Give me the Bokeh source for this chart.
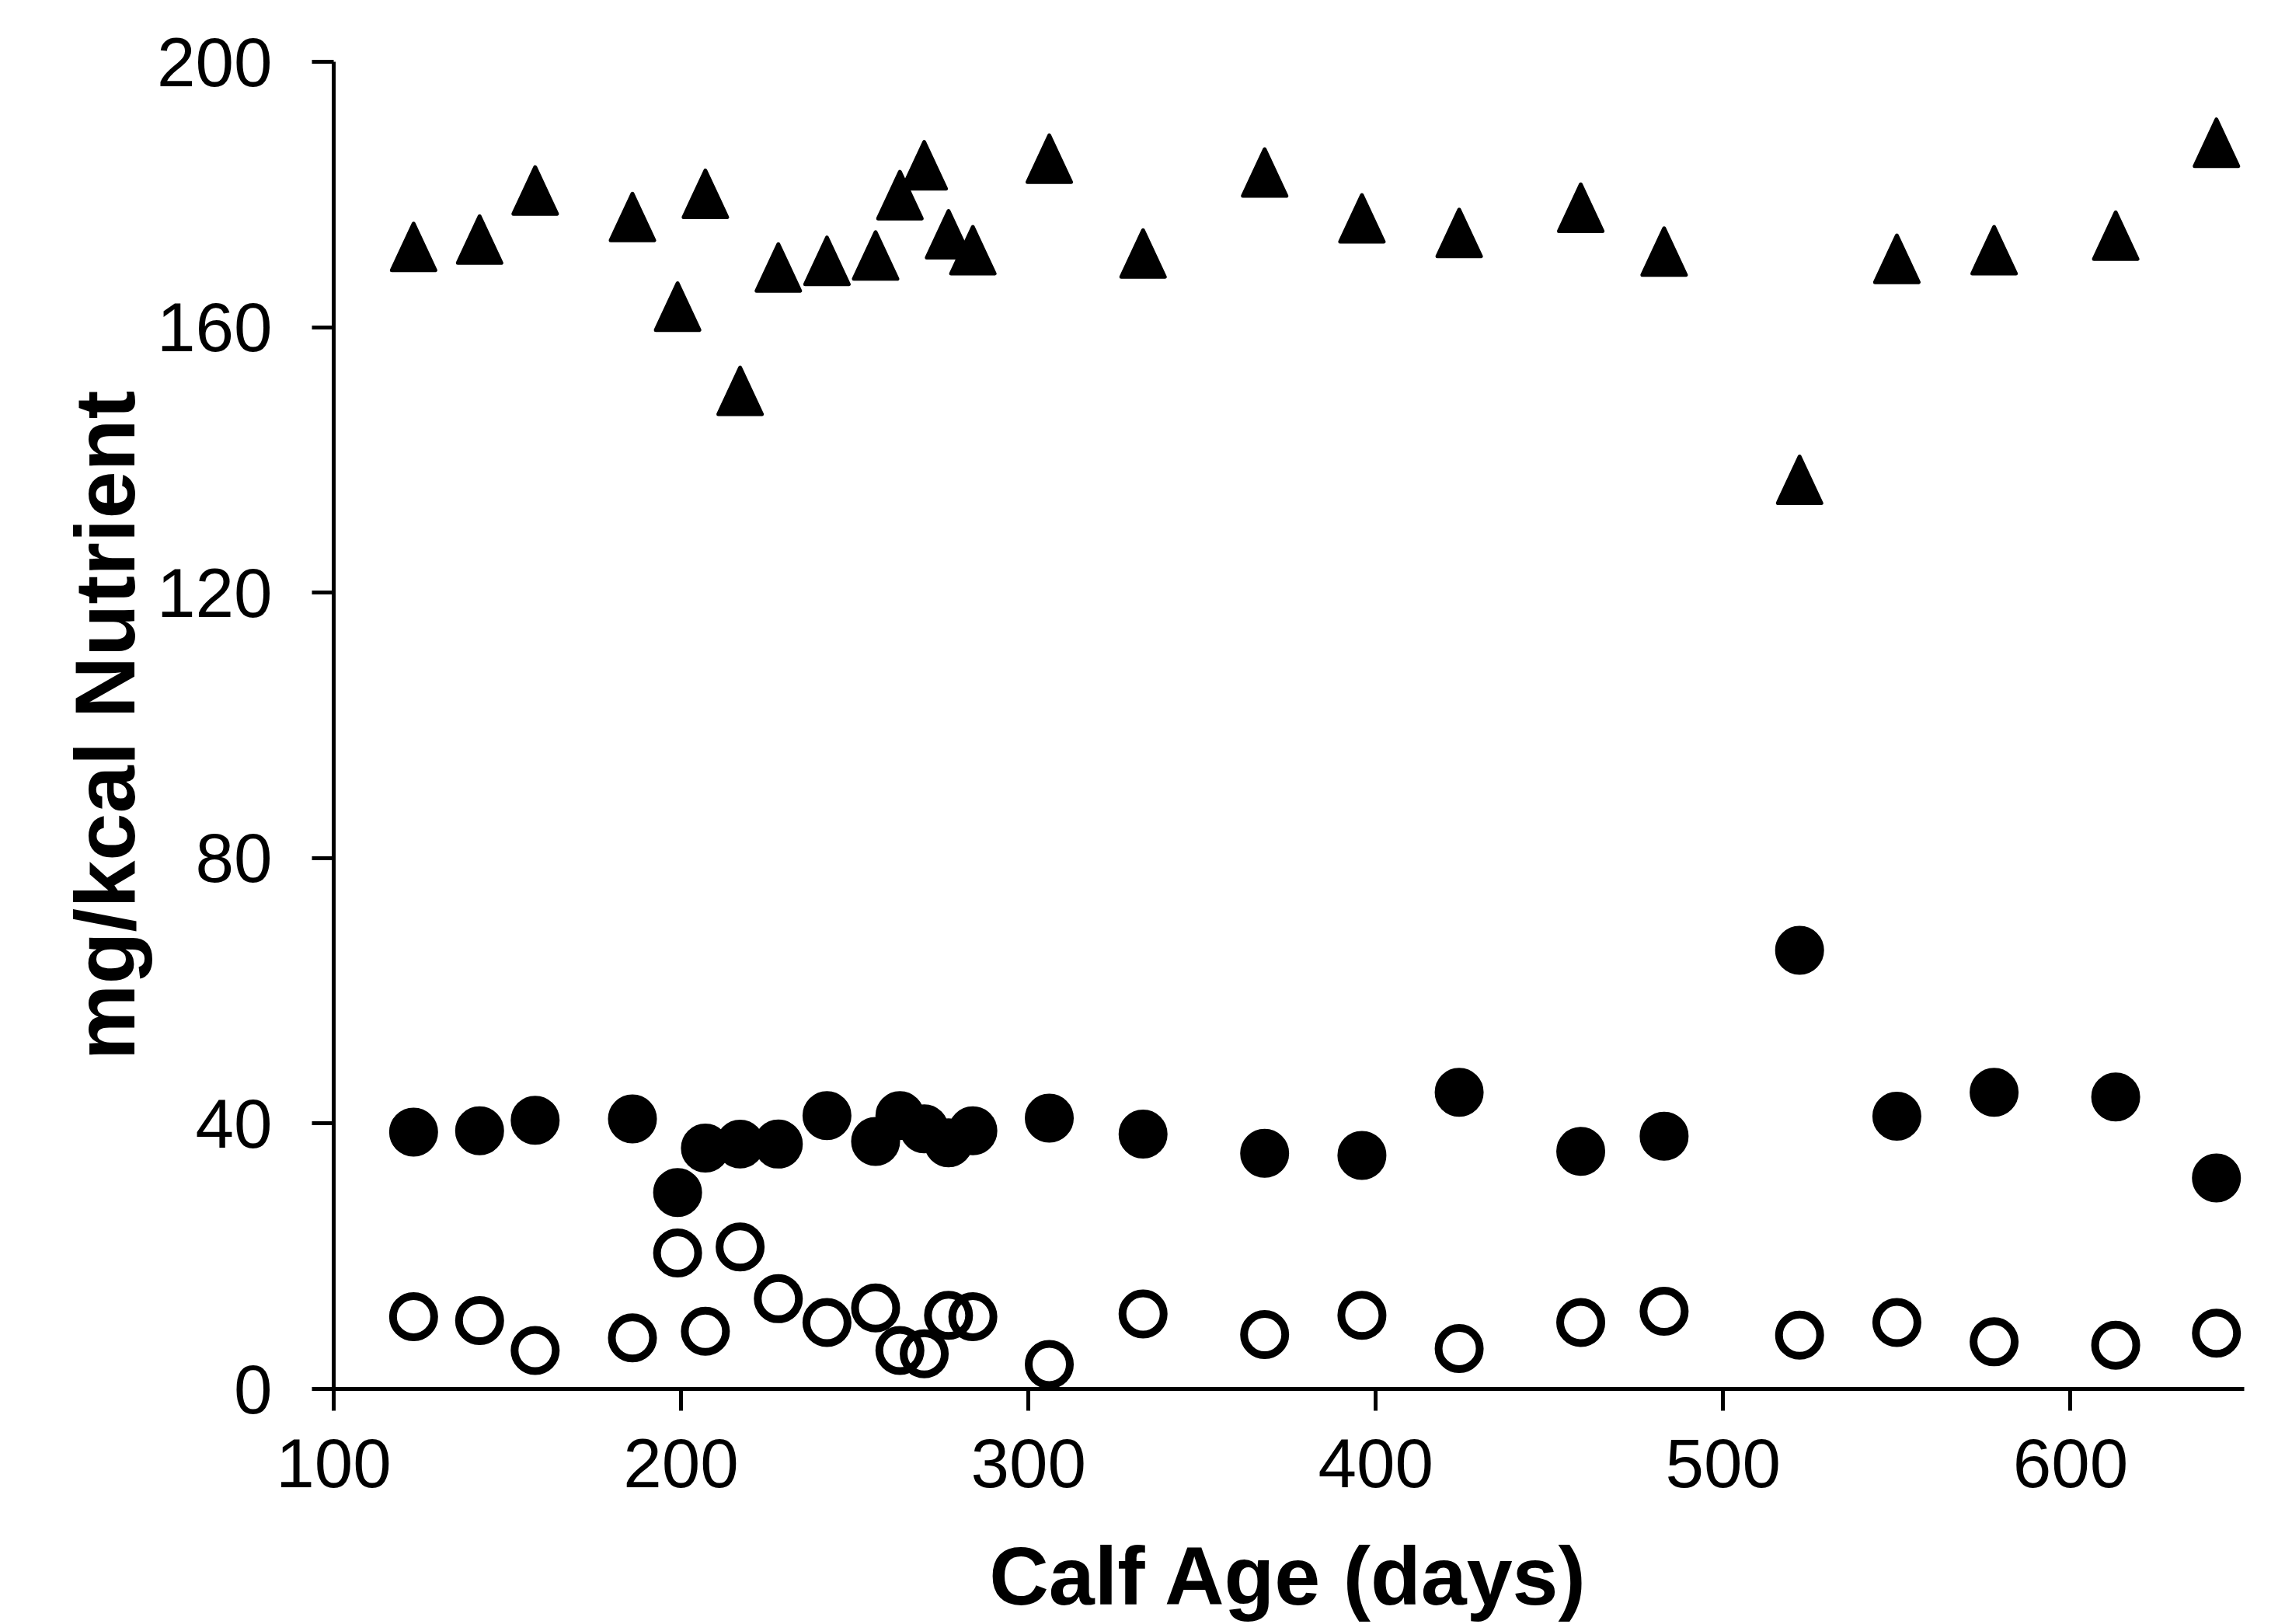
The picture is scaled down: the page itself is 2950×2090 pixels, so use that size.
from bokeh.plotting import figure
from bokeh.models import Range1d, FixedTicker
from bokeh.embed import file_html
from bokeh.resources import INLINE

# ---- data ----
calf_age = [123, 142, 158, 186, 199, 207, 217, 228, 242, 256, 263, 270, 277,
            284, 306, 333, 368, 396, 424, 459, 483, 522, 550, 578, 613, 642]
nutrient_triangle = [172.1, 173.2, 180.6, 176.6, 163.1, 180.1, 150.4, 169.0, 170.0,
                     170.8, 179.9, 184.4, 174.0, 171.6, 185.4, 171.1, 183.3, 176.4,
                     174.2, 178.0, 171.4, 137.0, 170.3, 171.6, 173.8, 187.8]
nutrient_filled = [38.7, 38.9, 40.5, 40.7, 29.6, 36.3, 36.9, 36.9, 41.2, 37.3, 41.2,
                   39.2, 37.1, 38.9, 40.8, 38.4, 35.5, 35.2, 44.7, 35.8, 38.1, 66.1,
                   41.1, 44.7, 44.0, 31.8]
nutrient_open = [10.9, 10.3, 5.8, 7.7, 20.5, 8.7, 21.4, 13.6, 10.0, 12.2, 5.8, 5.3,
                 11.1, 10.9, 3.7, 11.3, 8.2, 11.1, 6.1, 10.0, 11.7, 8.1, 10.0, 7.1,
                 6.6, 8.4]
x_ticks = [100, 200, 300, 400, 500, 600]
y_ticks = [0, 40, 80, 120, 160, 200]
x_title = "Calf Age (days)"
y_title = "mg/kcal Nutrient"

# ---- layout ----
W, H = 2950, 2090
LEFT, RIGHT, TOP, BOTTOM = 429, 62, 79, 303
X0, X1 = 100, 650
Y0, Y1 = 0, 200
FONT = "Liberation Sans"

p = figure(width=W, height=H, x_range=Range1d(X0, X1), y_range=Range1d(Y0, Y1),
           output_backend="svg", toolbar_location=None,
           min_border_left=LEFT, min_border_right=RIGHT,
           min_border_top=TOP, min_border_bottom=BOTTOM)
p.background_fill_color = "white"
p.border_fill_color = "white"
p.outline_line_color = None
p.xgrid.visible = False
p.ygrid.visible = False

# pixel scale of the frame, used to size the triangle markers in screen pixels
frame_w = W - LEFT - RIGHT
frame_h = H - TOP - BOTTOM
sx = frame_w / (X1 - X0)
sy = frame_h / (Y1 - Y0)
half_w, half_h = 28, 30
tri_xs = [[a - half_w / sx, a, a + half_w / sx] for a in calf_age]
tri_ys = [[v - half_h / sy, v + half_h / sy, v - half_h / sy] for v in nutrient_triangle]

p.patches(tri_xs, tri_ys, fill_color="black", line_color="black",
          line_width=5, line_join="round")
p.scatter(calf_age, nutrient_filled, marker="circle", size=59,
          fill_color="black", line_color="black", line_width=4)
p.scatter(calf_age, nutrient_open, marker="circle", size=53,
          fill_alpha=0, line_color="black", line_width=10)

# ---- axes ----
p.xaxis.ticker = FixedTicker(ticks=x_ticks)
p.yaxis.ticker = FixedTicker(ticks=y_ticks)
for ax in (p.xaxis[0], p.yaxis[0]):
    ax.axis_line_width = 5
    ax.axis_line_color = "black"
    ax.major_tick_line_width = 5
    ax.major_tick_line_color = "black"
    ax.major_tick_out = 28
    ax.major_tick_in = 0
    ax.minor_tick_line_color = None
    ax.major_label_text_font = FONT
    ax.major_label_text_font_size = "89px"
    ax.major_label_text_color = "black"
    ax.axis_label_text_font = FONT
    ax.axis_label_text_font_style = "bold"
    ax.axis_label_text_color = "black"

p.xaxis.major_label_standoff = 36
p.yaxis.major_label_standoff = 51

p.xaxis.axis_label = x_title
p.xaxis.axis_label_text_font_size = "106px"
p.xaxis.axis_label_standoff = 52

p.yaxis.axis_label = y_title
p.yaxis.axis_label_text_font_size = "110px"
p.yaxis.axis_label_standoff = 3

open("out.html", "w").write(file_html(p, INLINE))
